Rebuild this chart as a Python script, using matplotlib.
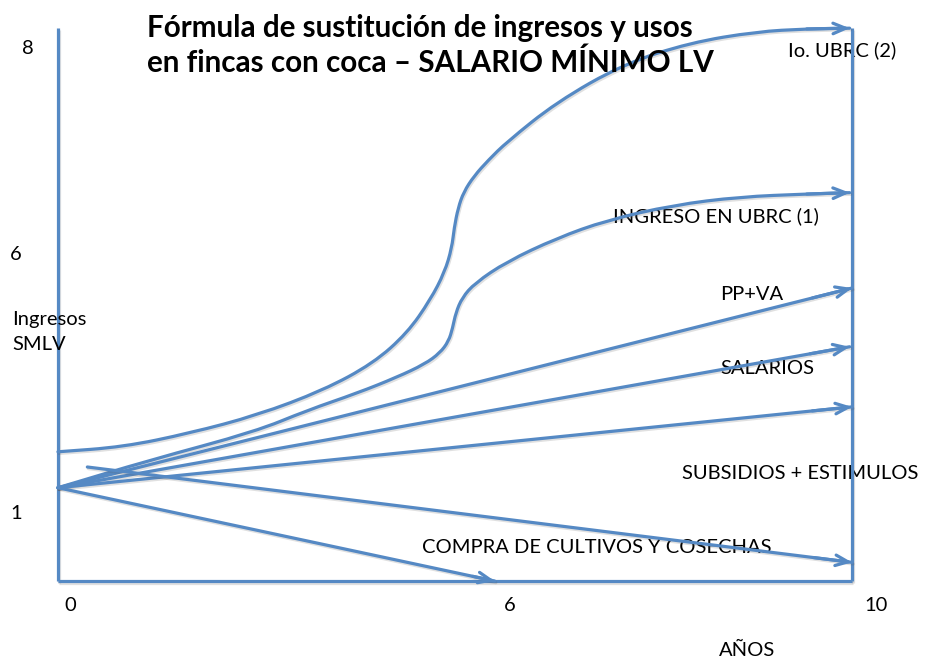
import matplotlib
matplotlib.use("Agg")
import matplotlib.pyplot as plt
from matplotlib.path import Path
from matplotlib.patches import PathPatch
import matplotlib.patheffects as pe

# ---------------- data (x: años, y: ingresos en SMLV, schematic) ----------------
title_lines = ["Fórmula de sustitución de ingresos y usos",
               "en fincas con coca – SALARIO MÍNIMO LV"]

# Io. UBRC (2) curve
ubrc2_x = [0, 0.82, 1.66, 2.51, 3.34, 3.97, 4.40, 4.69, 4.87, 4.96, 4.99, 5.04, 5.11,
           5.24, 5.42, 5.65, 6.28, 7.12, 7.96, 8.80, 9.43, 9.97]
ubrc2_y = [1.87, 1.94, 2.14, 2.40, 2.76, 3.15, 3.59, 4.07, 4.47, 4.82, 5.11, 5.40, 5.63,
           5.86, 6.09, 6.35, 6.93, 7.48, 7.79, 7.95, 7.99, 8.00]

# INGRESO EN UBRC (1) curve
ubrc1_x = [0, 1.16, 2.48, 3.14, 3.77, 4.27, 4.62, 4.81, 4.92, 4.97, 5.01, 5.09, 5.25,
           5.65, 6.28, 6.91, 7.75, 8.59, 9.43, 9.97]
ubrc1_y = [1.35, 1.75, 2.16, 2.47, 2.72, 2.95, 3.14, 3.30, 3.47, 3.66, 3.88, 4.10, 4.31,
           4.62, 4.96, 5.22, 5.44, 5.56, 5.60, 5.62]

# straight arrows: (x0, y0, x1, y1)
ppva = (0.0, 1.35, 10.0, 4.24)
salarios = (0.0, 1.35, 9.97, 3.39)
subsidios = (0.0, 1.35, 10.0, 2.52)
compra_long = (0.37, 1.65, 10.0, 0.27)
compra_short = (0.0, 1.35, 5.50, 0.0)

# frame
frame_x = [0, 0, 10, 10]
frame_y = [8.0, 0, 0, 8.0]

# labels
y_tick_labels = ["8", "6", "1"]
y_tick_pos = [7.71, 4.72, 0.98]
y_tick_x = [-0.38, -0.53, -0.53]
x_tick_labels = ["0", "6", "10"]
x_tick_pos = [0.15, 5.69, 10.30]

series_labels = ["Io. UBRC (2)", "INGRESO EN UBRC (1)", "PP+VA", "SALARIOS",
                 "SUBSIDIOS + ESTIMULOS", "COMPRA DE CULTIVOS Y COSECHAS"]
series_label_x = [9.19, 6.99, 8.34, 8.34, 7.86, 4.58]
series_label_y = [7.68, 5.28, 4.14, 3.08, 1.55, 0.49]

# ---------------- drawing ----------------
COLOR = "#5589C4"
LW = 2.3
FONT = "Lato"

fig = plt.figure(figsize=(9.26, 6.58), dpi=100)
ax = fig.add_axes([0, 0, 1, 1])
ax.set_xlim(-0.730, 10.932)
ax.set_ylim(-1.114, 8.408)
ax.axis("off")

shadow = [pe.SimpleLineShadow(offset=(0.8, -1.2), shadow_color="#555555", alpha=0.18),
          pe.Normal()]


def smooth_path(xs, ys):
    pts = list(zip(xs, ys))
    verts = [pts[0]]
    codes = [Path.MOVETO]
    mid = ((pts[0][0] + pts[1][0]) / 2, (pts[0][1] + pts[1][1]) / 2)
    verts.append(mid)
    codes.append(Path.LINETO)
    for i in range(1, len(pts) - 1):
        nxt = ((pts[i][0] + pts[i + 1][0]) / 2, (pts[i][1] + pts[i + 1][1]) / 2)
        verts += [pts[i], nxt]
        codes += [Path.CURVE3, Path.CURVE3]
    verts.append(pts[-1])
    codes.append(Path.LINETO)
    return Path(verts, codes)


def arrow_head(x_from, y_from, x_to, y_to):
    ax.annotate("", xy=(x_to, y_to), xytext=(x_from, y_from),
                arrowprops=dict(arrowstyle="->,head_length=0.9,head_width=0.38",
                                color=COLOR, lw=LW, shrinkA=0, shrinkB=0,
                                capstyle="round", joinstyle="miter"),
                zorder=3)


# frame
ax.plot(frame_x[:2], frame_y[:2], color=COLOR, lw=LW, solid_capstyle="butt", path_effects=shadow)
ax.plot(frame_x[1:3], frame_y[1:3], color=COLOR, lw=LW, solid_capstyle="butt", path_effects=shadow)
ax.plot(frame_x[2:], frame_y[2:], color=COLOR, lw=LW, solid_capstyle="butt", path_effects=shadow)

# curves
for xs, ys in [(ubrc2_x, ubrc2_y), (ubrc1_x, ubrc1_y)]:
    patch = PathPatch(smooth_path(xs, ys), facecolor="none", edgecolor=COLOR, lw=LW,
                      capstyle="round", joinstyle="round", path_effects=shadow, zorder=2)
    ax.add_patch(patch)
    arrow_head(xs[-2], ys[-2], xs[-1], ys[-1])

# straight arrows
for (x0, y0, x1, y1) in [ppva, salarios, subsidios, compra_long, compra_short]:
    ax.plot([x0, x1], [y0, y1], color=COLOR, lw=LW, solid_capstyle="round", path_effects=shadow,
            zorder=2)
    arrow_head(x0 + (x1 - x0) * 0.95, y0 + (y1 - y0) * 0.95, x1, y1)

# title
ax.text(1.12, 7.87, title_lines[0], fontsize=21.3, fontweight="bold", family=FONT,
        ha="left", va="baseline", color="black")
ax.text(1.12, 7.37, title_lines[1], fontsize=21.3, fontweight="bold", family=FONT,
        ha="left", va="baseline", color="black")

# axis labels
TS = 14.5
for lab, x, y in zip(y_tick_labels, y_tick_x, y_tick_pos):
    ax.text(x, y, lab, fontsize=TS, family=FONT, ha="center", va="center")
for lab, x in zip(x_tick_labels, x_tick_pos):
    ax.text(x, -0.35, lab, fontsize=TS, family=FONT, ha="center", va="center")
ax.text(8.68, -1.0, "AÑOS", fontsize=TS, family=FONT, ha="center", va="center")
ax.text(-0.58, 3.78, "Ingresos", fontsize=TS, family=FONT, ha="left", va="center")
ax.text(-0.58, 3.42, "SMLV", fontsize=TS, family=FONT, ha="left", va="center")

for lab, x, y in zip(series_labels, series_label_x, series_label_y):
    ax.text(x, y, lab, fontsize=TS, family=FONT, ha="left", va="center", zorder=1)

fig.savefig("out.png", dpi=100)
